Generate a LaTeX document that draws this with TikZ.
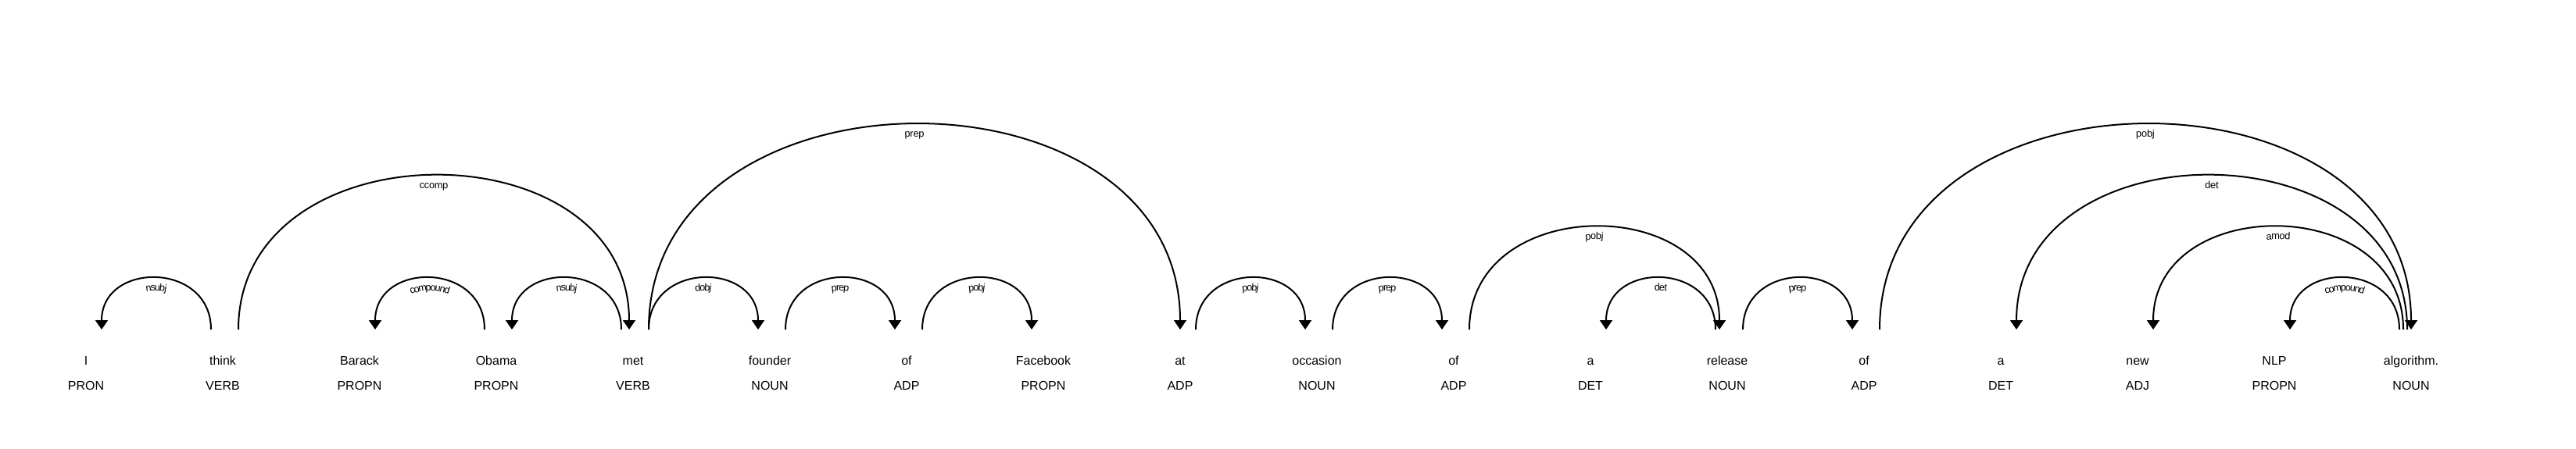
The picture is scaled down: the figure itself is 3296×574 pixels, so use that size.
\documentclass[tikz,border=0pt]{standalone}
\usepackage{fontspec}
\setmainfont{Liberation Sans}
\newfontface\labface[LetterSpace=7.8]{Liberation Sans}
\usetikzlibrary{arrows.meta,calc,decorations.text}
\newcommand{\labfont}{\fontsize{12.8}{15}\labface}
\tikzset{
  word/.style={anchor=base,inner sep=0pt,font=\fontsize{16}{19}\selectfont},
  tagnode/.style={word},
  deparc/.style={line width=2pt},
  deplabel/.style={postaction={-,decorate,decoration={text along path,text align=center,raise=-16pt,text={|\labfont|#1}}}}
}
\begin{document}
\begin{tikzpicture}[x=1pt,y=1pt,>={Triangle[width=16pt,length=12pt]}]
  \useasboundingbox (0,0) rectangle (3296,574);
  % words
  \node[word] (I) at (110,107) {I};
  \node[word] (think) at (285,107) {think};
  \node[word] (barack) at (460,107) {Barack};
  \node[word] (obama) at (635,107) {Obama};
  \node[word] (met) at (810,107) {met};
  \node[word] (founder) at (985,107) {founder};
  \node[word] (of1) at (1160,107) {of};
  \node[word] (facebook) at (1335,107) {Facebook};
  \node[word] (at) at (1510,107) {at};
  \node[word] (occasion) at (1685,107) {occasion};
  \node[word] (of2) at (1860,107) {of};
  \node[word] (a1) at (2035,107) {a};
  \node[word] (release) at (2210,107) {release};
  \node[word] (of3) at (2385,107) {of};
  \node[word] (a2) at (2560,107) {a};
  \node[word] (new) at (2735,107) {new};
  \node[word] (nlp) at (2910,107) {NLP};
  \node[word] (algorithm) at (3085,107) {algorithm.};
  % tags
  \node[tagnode] (I-tag) at ([yshift=-32pt]I.base) {PRON};
  \node[tagnode] (think-tag) at ([yshift=-32pt]think.base) {VERB};
  \node[tagnode] (barack-tag) at ([yshift=-32pt]barack.base) {PROPN};
  \node[tagnode] (obama-tag) at ([yshift=-32pt]obama.base) {PROPN};
  \node[tagnode] (met-tag) at ([yshift=-32pt]met.base) {VERB};
  \node[tagnode] (founder-tag) at ([yshift=-32pt]founder.base) {NOUN};
  \node[tagnode] (of1-tag) at ([yshift=-32pt]of1.base) {ADP};
  \node[tagnode] (facebook-tag) at ([yshift=-32pt]facebook.base) {PROPN};
  \node[tagnode] (at-tag) at ([yshift=-32pt]at.base) {ADP};
  \node[tagnode] (occasion-tag) at ([yshift=-32pt]occasion.base) {NOUN};
  \node[tagnode] (of2-tag) at ([yshift=-32pt]of2.base) {ADP};
  \node[tagnode] (a1-tag) at ([yshift=-32pt]a1.base) {DET};
  \node[tagnode] (release-tag) at ([yshift=-32pt]release.base) {NOUN};
  \node[tagnode] (of3-tag) at ([yshift=-32pt]of3.base) {ADP};
  \node[tagnode] (a2-tag) at ([yshift=-32pt]a2.base) {DET};
  \node[tagnode] (new-tag) at ([yshift=-32pt]new.base) {ADJ};
  \node[tagnode] (nlp-tag) at ([yshift=-32pt]nlp.base) {PROPN};
  \node[tagnode] (algorithm-tag) at ([yshift=-32pt]algorithm.base) {NOUN};
  % arcs
  \draw[deparc,deplabel=nsubj,<-] ($(I.base)+(20,45)$) .. controls +(0,87.5) and +(0,87.5) .. ($(think.base)+(-15,45)$);
  \draw[deparc,deplabel=ccomp,->] ($(think.base)+(20,45)$) .. controls +(0,262.5) and +(0,262.5) .. ($(met.base)+(-5,45)$);
  \draw[deparc,deplabel=compound,<-] ($(barack.base)+(20,45)$) .. controls +(0,87.5) and +(0,87.5) .. ($(obama.base)+(-15,45)$);
  \draw[deparc,deplabel=nsubj,<-] ($(obama.base)+(20,45)$) .. controls +(0,87.5) and +(0,87.5) .. ($(met.base)+(-15,45)$);
  \draw[deparc,deplabel=dobj,->] ($(met.base)+(20,45)$) .. controls +(0,87.5) and +(0,87.5) .. ($(founder.base)+(-15,45)$);
  \draw[deparc,deplabel=prep,->] ($(founder.base)+(20,45)$) .. controls +(0,87.5) and +(0,87.5) .. ($(of1.base)+(-15,45)$);
  \draw[deparc,deplabel=pobj,->] ($(of1.base)+(20,45)$) .. controls +(0,87.5) and +(0,87.5) .. ($(facebook.base)+(-15,45)$);
  \draw[deparc,deplabel=prep,->] ($(met.base)+(20,45)$) .. controls +(0,350) and +(0,350) .. ($(at.base)+(0,45)$);
  \draw[deparc,deplabel=pobj,->] ($(at.base)+(20,45)$) .. controls +(0,87.5) and +(0,87.5) .. ($(occasion.base)+(-15,45)$);
  \draw[deparc,deplabel=prep,->] ($(occasion.base)+(20,45)$) .. controls +(0,87.5) and +(0,87.5) .. ($(of2.base)+(-15,45)$);
  \draw[deparc,deplabel=pobj,->] ($(of2.base)+(20,45)$) .. controls +(0,175) and +(0,175) .. ($(release.base)+(-10,45)$);
  \draw[deparc,deplabel=det,<-] ($(a1.base)+(20,45)$) .. controls +(0,87.5) and +(0,87.5) .. ($(release.base)+(-15,45)$);
  \draw[deparc,deplabel=prep,->] ($(release.base)+(20,45)$) .. controls +(0,87.5) and +(0,87.5) .. ($(of3.base)+(-15,45)$);
  \draw[deparc,deplabel=pobj,->] ($(of3.base)+(20,45)$) .. controls +(0,350) and +(0,350) .. ($(algorithm.base)+(0,45)$);
  \draw[deparc,deplabel=det,<-] ($(a2.base)+(20,45)$) .. controls +(0,262.5) and +(0,262.5) .. ($(algorithm.base)+(-5,45)$);
  \draw[deparc,deplabel=amod,<-] ($(new.base)+(20,45)$) .. controls +(0,175) and +(0,175) .. ($(algorithm.base)+(-10,45)$);
  \draw[deparc,deplabel=compound,<-] ($(nlp.base)+(20,45)$) .. controls +(0,87.5) and +(0,87.5) .. ($(algorithm.base)+(-15,45)$);
\end{tikzpicture}
\end{document}
